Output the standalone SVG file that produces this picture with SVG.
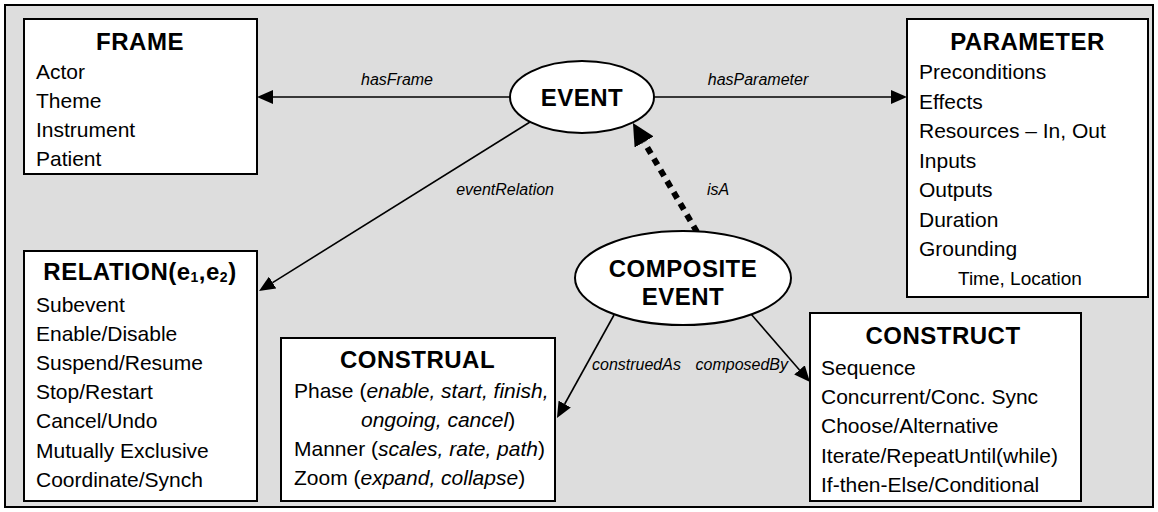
<svg xmlns="http://www.w3.org/2000/svg" width="1158" height="512" viewBox="0 0 1158 512">
<style>
text{font-family:"Liberation Sans",Arial,sans-serif;fill:#000}
.t{font-size:24px;font-weight:bold;text-anchor:middle;letter-spacing:0.5px}
.i{font-size:21px}
.sm{font-size:19px}
.lbl{font-size:16px;font-style:italic}
.it{font-style:italic}
.box{fill:#fff;stroke:#000;stroke-width:2}
.ell{fill:#fff;stroke:#000;stroke-width:2}
.c{stroke:#000;stroke-width:1.6;fill:none}
.d{stroke:#000;stroke-width:6;stroke-dasharray:7 6;fill:none}
</style>
<defs>
<marker id="ah" viewBox="0 0 16 14" refX="0" refY="7" markerWidth="16" markerHeight="14" markerUnits="userSpaceOnUse" orient="auto"><path d="M0,0 L16,7 L0,14 z" fill="#000"/></marker>
<marker id="ahb" viewBox="0 0 22 22" refX="0" refY="11" markerWidth="22" markerHeight="22" markerUnits="userSpaceOnUse" orient="auto"><path d="M0,0 L22,11 L0,22 z" fill="#000"/></marker>
</defs>
<rect x="5" y="5" width="1148" height="502" fill="#dddddd" stroke="#000" stroke-width="2"/>

<g id="connectors">
<line class="c" x1="510" y1="97" x2="273" y2="97" marker-end="url(#ah)"/>
<line class="c" x1="654" y1="97" x2="891" y2="97" marker-end="url(#ah)"/>
<line class="c" x1="530" y1="122" x2="272.6" y2="282.6" marker-end="url(#ah)"/>
<line class="c" x1="614" y1="315" x2="564.7" y2="404" marker-end="url(#ah)"/>
<line class="c" x1="751" y1="314" x2="799.5" y2="369.9" marker-end="url(#ah)"/>
<line class="d" x1="697" y1="232" x2="644.1" y2="142" marker-end="url(#ahb)"/>
<text class="lbl" x="397" y="85" text-anchor="middle">hasFrame</text>
<text class="lbl" x="758" y="85" text-anchor="middle">hasParameter</text>
<text class="lbl" x="554" y="195" text-anchor="end">eventRelation</text>
<text class="lbl" x="718" y="195" text-anchor="middle">isA</text>
<text class="lbl" x="592" y="370">construedAs</text>
<text class="lbl" x="788" y="370" text-anchor="end">composedBy</text>
</g>

<g id="frame">
<rect class="box" x="24" y="19" width="233" height="155"/>
<text class="t" x="140" y="50">FRAME</text>
<text class="i" x="36" y="79">Actor</text>
<text class="i" x="36" y="108">Theme</text>
<text class="i" x="36" y="137">Instrument</text>
<text class="i" x="36" y="166">Patient</text>
</g>

<g id="event">
<ellipse class="ell" cx="582" cy="97" rx="72" ry="36"/>
<text class="t" x="582" y="106">EVENT</text>
</g>

<g id="parameter">
<rect class="box" x="907" y="19" width="241" height="278"/>
<text class="t" x="1027.5" y="50">PARAMETER</text>
<text class="i" x="919" y="79">Preconditions</text>
<text class="i" x="919" y="108.5">Effects</text>
<text class="i" x="919" y="138">Resources – In, Out</text>
<text class="i" x="919" y="167.5">Inputs</text>
<text class="i" x="919" y="197">Outputs</text>
<text class="i" x="919" y="226.5">Duration</text>
<text class="i" x="919" y="256">Grounding</text>
<text class="sm" x="958" y="285">Time, Location</text>
</g>

<g id="relation">
<rect class="box" x="24" y="251" width="233" height="250"/>
<text class="t" x="140" y="280">RELATION(e<tspan font-size="14" dy="2">1</tspan><tspan dy="-2">,e</tspan><tspan font-size="14" dy="2">2</tspan><tspan dy="-2">)</tspan></text>
<text class="i" x="36" y="311.5">Subevent</text>
<text class="i" x="36" y="340.7">Enable/Disable</text>
<text class="i" x="36" y="369.9">Suspend/Resume</text>
<text class="i" x="36" y="399.1">Stop/Restart</text>
<text class="i" x="36" y="428.3">Cancel/Undo</text>
<text class="i" x="36" y="457.5">Mutually Exclusive</text>
<text class="i" x="36" y="486.7">Coordinate/Synch</text>
</g>

<g id="composite-event">
<ellipse class="ell" cx="683" cy="278" rx="108" ry="47"/>
<text class="t" x="683" y="277">COMPOSITE</text>
<text class="t" x="683" y="305">EVENT</text>
</g>

<g id="construal">
<rect class="box" x="281" y="338" width="274" height="163"/>
<text class="t" x="417.5" y="368">CONSTRUAL</text>
<text class="i" x="294" y="398">Phase (<tspan class="it">enable, start, finish,</tspan></text>
<text class="i" x="361" y="427"><tspan class="it">ongoing, cancel</tspan>)</text>
<text class="i" x="294" y="456">Manner (<tspan class="it">scales, rate, path</tspan>)</text>
<text class="i" x="294" y="485">Zoom (<tspan class="it">expand, collapse</tspan>)</text>
</g>

<g id="construct">
<rect class="box" x="810" y="313" width="271" height="188"/>
<text class="t" x="943" y="344">CONSTRUCT</text>
<text class="i" x="821" y="375">Sequence</text>
<text class="i" x="821" y="404.2">Concurrent/Conc. Sync</text>
<text class="i" x="821" y="433.4">Choose/Alternative</text>
<text class="i" x="821" y="462.6">Iterate/RepeatUntil(while)</text>
<text class="i" x="821" y="491.8">If-then-Else/Conditional</text>
</g>
</svg>
